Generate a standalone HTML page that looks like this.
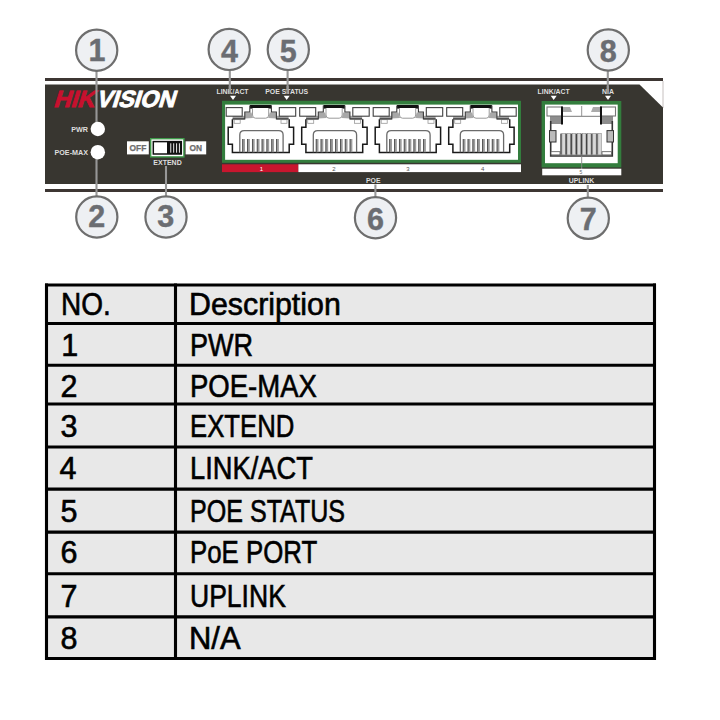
<!DOCTYPE html>
<html><head><meta charset="utf-8">
<style>
html,body{margin:0;padding:0;background:#fff;}
body{width:720px;height:720px;position:relative;overflow:hidden;font-family:"Liberation Sans",sans-serif;}
#panel{position:absolute;left:0;top:0;}
.hl{position:absolute;left:45px;width:611px;height:3px;background:#000;}
.vl{position:absolute;top:284px;width:3px;height:376px;background:#000;}
.t{position:absolute;font-size:30.5px;-webkit-text-stroke:0.6px #000;line-height:1;color:#000;white-space:nowrap;transform-origin:0 0;}
#h0{left:61.4px;top:289.1px;transform:scaleX(0.917);}
#d0{left:188.5px;top:288.9px;transform:scaleX(0.995);}
#n1{left:61.2px;top:329.5px;transform:scaleX(1.000);}
#s1{left:190.0px;top:329.5px;transform:scaleX(0.887);}
#n2{left:60.5px;top:371.2px;transform:scaleX(1.000);}
#s2{left:189.9px;top:371.2px;transform:scaleX(0.902);}
#n3{left:60.5px;top:411.2px;transform:scaleX(1.000);}
#s3{left:190.1px;top:411.2px;transform:scaleX(0.843);}
#n4{left:59.4px;top:453.4px;transform:scaleX(1.000);}
#s4{left:189.5px;top:453.4px;transform:scaleX(0.895);}
#n5{left:60.5px;top:496.2px;transform:scaleX(1.000);}
#s5{left:189.6px;top:496.2px;transform:scaleX(0.822);}
#n6{left:60.5px;top:537.2px;transform:scaleX(1.000);}
#s6{left:189.6px;top:537.2px;transform:scaleX(0.846);}
#n7{left:60.5px;top:581.0px;transform:scaleX(1.000);}
#s7{left:189.5px;top:581.0px;transform:scaleX(0.870);}
#n8{left:60.5px;top:622.9px;transform:scaleX(1.000);}
#s8{left:189.2px;top:622.9px;transform:scaleX(1.014);}
</style></head><body>
<svg id="panel" width="720" height="260" viewBox="0 0 720 260">
<rect x="45" y="78" width="618" height="3" fill="#3d3633"/>
<rect x="45" y="189" width="618" height="3" fill="#3d3633"/>
<line x1="663" y1="81" x2="663" y2="108" stroke="#b8b0ae" stroke-width="0.8"/>
<path d="M45 84.6 L639.5 84.6 L663 107.5 L663 184 L45 184 Z" fill="#383630"/>
<g transform="translate(0,106.9) skewX(-17) translate(0,-106.9)"><text x="53" y="106.9" font-family="Liberation Sans" font-weight="bold" font-size="23.5" textLength="41" lengthAdjust="spacingAndGlyphs" fill="#c8102e" stroke="#c8102e" stroke-width="0.9">HIK</text><text x="95.8" y="106.9" font-family="Liberation Sans" font-weight="bold" font-size="23.5" textLength="78.5" lengthAdjust="spacingAndGlyphs" fill="#ffffff" stroke="#fff" stroke-width="0.9">VISION</text></g>
<g stroke="#979797" stroke-width="2.1">
<line x1="96.5" y1="70" x2="96.5" y2="124"/>
<line x1="96.5" y1="156" x2="96.5" y2="198"/>
<line x1="166" y1="166" x2="166" y2="198"/>
<line x1="229.8" y1="69" x2="229.8" y2="94"/>
<line x1="287.6" y1="69" x2="287.6" y2="94"/>
<line x1="375.4" y1="184.5" x2="375.4" y2="198"/>
<line x1="587.8" y1="185" x2="587.8" y2="198"/>
<line x1="607.8" y1="70" x2="607.8" y2="94"/>
</g>
<circle cx="97.8" cy="129" r="7.2" fill="#fff"/>
<circle cx="97.8" cy="152.2" r="7.2" fill="#fff"/>
<text x="88" y="131.6" text-anchor="end" font-size="7.2" font-family="Liberation Sans" font-weight="bold" fill="#dedede">PWR</text>
<text x="88" y="154.8" text-anchor="end" font-size="7.2" font-family="Liberation Sans" font-weight="bold" fill="#dedede">POE-MAX</text>
<rect x="127" y="141.3" width="21.8" height="13.1" fill="#fff"/>
<rect x="185.6" y="141.3" width="20.6" height="13.1" fill="#fff"/>
<text x="137.9" y="151" text-anchor="middle" font-family="Liberation Sans" font-weight="bold" font-size="8.4" fill="#6e6e6e" stroke="#6e6e6e" stroke-width="0.25">OFF</text>
<text x="195.9" y="151" text-anchor="middle" font-family="Liberation Sans" font-weight="bold" font-size="8.4" fill="#6e6e6e" stroke="#6e6e6e" stroke-width="0.25">ON</text>
<rect x="150.7" y="138.7" width="33.2" height="18.2" fill="#fff" stroke="#3f9a4a" stroke-width="1.4"/>
<rect x="153.3" y="141.6" width="28" height="12.4" fill="#fff" stroke="#111" stroke-width="1.5"/>
<rect x="167" y="141.6" width="14.3" height="12.4" fill="#111"/>
<rect x="170.2" y="143.3" width="1.1" height="9.4" fill="#d8d8d8"/>
<rect x="173.1" y="143.3" width="1.1" height="9.4" fill="#d8d8d8"/>
<rect x="176.0" y="143.3" width="1.1" height="9.4" fill="#d8d8d8"/>
<rect x="178.9" y="143.3" width="1.1" height="9.4" fill="#d8d8d8"/>
<text x="167.5" y="164.6" text-anchor="middle" font-size="7" font-family="Liberation Sans" font-weight="bold" fill="#dedede">EXTEND</text>
<text x="232.5" y="94" text-anchor="middle" font-size="6.9" font-family="Liberation Sans" font-weight="bold" fill="#dedede">LINK/ACT</text>
<text x="286.7" y="94" text-anchor="middle" font-size="6.9" font-family="Liberation Sans" font-weight="bold" fill="#dedede">POE STATUS</text>
<text x="553.7" y="94" text-anchor="middle" font-size="6.9" font-family="Liberation Sans" font-weight="bold" fill="#dedede">LINK/ACT</text>
<text x="608" y="94" text-anchor="middle" font-size="6.9" font-family="Liberation Sans" font-weight="bold" fill="#dedede">N/A</text>
<path d="M230 95.8 L236 95.8 L233 100 Z" fill="#fff"/>
<path d="M283.7 95.8 L289.7 95.8 L286.7 100 Z" fill="#fff"/>
<path d="M550.7 95.8 L556.7 95.8 L553.7 100 Z" fill="#fff"/>
<path d="M605 95.8 L611 95.8 L608 100 Z" fill="#fff"/>
<g stroke="#979797" stroke-width="2.1"><line x1="229.8" y1="86" x2="229.8" y2="94"/><line x1="287.6" y1="86" x2="287.6" y2="94"/><line x1="607.8" y1="86" x2="607.8" y2="94"/></g>
<rect x="222" y="100.8" width="299" height="62" fill="#337d3d"/>
<rect x="225.1" y="104.6" width="292.9" height="55.2" fill="#fff"/>
<g transform="translate(222.00,100)"><path d="M22.8 12 L27.8 12 L27.8 5 L49.4 5 L49.4 12 L54.4 12 L54.4 18.9 L22.8 18.9 Z" fill="#fff"/><path d="M22.8 12.5 L29.5 12.5 L31 18 L22.8 18.5 Z" fill="#a8a8a8"/><path d="M54.4 12.5 L47.7 12.5 L46.2 18 L54.4 18.5 Z" fill="#a8a8a8"/><rect x="28" y="5" width="21.4" height="3.6" fill="#111"/><path d="M30.5 8 L30.5 15 Q30.5 18.2 33.5 18.2 L43.7 18.2 Q46.7 18.2 46.7 15 L46.7 8" fill="#fff" stroke="#9a9a9a" stroke-width="1"/><rect x="10.6" y="15.8" width="12.2" height="3.9" fill="#a0a0a0"/><rect x="54.4" y="15.8" width="12.2" height="3.9" fill="#a0a0a0"/><rect x="12.2" y="19.7" width="6" height="3.6" fill="#fff" stroke="#999" stroke-width="0.8"/><rect x="59" y="19.7" width="6" height="3.6" fill="#fff" stroke="#999" stroke-width="0.8"/><path d="M10.4 19.2 L10.4 27.2 L6.2 27.2 L6.2 44.2 L10.4 44.2 L10.4 52.4 L67.2 52.4 L67.2 44.2 L71.6 44.2 L71.6 27.2 L67.2 27.2 L67.2 19.2" fill="none" stroke="#1a1a1a" stroke-width="1.5" stroke-linejoin="miter"/><path d="M10.6 18.9 L22.8 18.9 L22.8 12 L27.8 12 L27.8 5.5 M49.4 5.5 L49.4 12 L54.4 12 L54.4 18.9 L66.6 18.9" fill="none" stroke="#3a3a3a" stroke-width="1.1"/><rect x="4.2" y="7.6" width="16" height="8.6" fill="#fff" stroke="#404040" stroke-width="1.1"/><rect x="57.3" y="7.6" width="16.4" height="8.6" fill="#fff" stroke="#404040" stroke-width="1.1"/><path d="M17.8 52.2 L17.8 35 Q17.8 30.6 22.2 30.6 L56.7 30.6 Q61.1 30.6 61.1 35 L61.1 52.2" fill="none" stroke="#6b6b6b" stroke-width="1.3"/><rect x="20.30" y="39" width="2.7" height="13.2" fill="#9c9c9c"/><rect x="20.30" y="39" width="0.8" height="13.2" fill="#444"/><rect x="25.14" y="39" width="2.7" height="13.2" fill="#9c9c9c"/><rect x="25.14" y="39" width="0.8" height="13.2" fill="#444"/><rect x="29.98" y="39" width="2.7" height="13.2" fill="#9c9c9c"/><rect x="29.98" y="39" width="0.8" height="13.2" fill="#444"/><rect x="34.82" y="39" width="2.7" height="13.2" fill="#9c9c9c"/><rect x="34.82" y="39" width="0.8" height="13.2" fill="#444"/><rect x="39.66" y="39" width="2.7" height="13.2" fill="#9c9c9c"/><rect x="39.66" y="39" width="0.8" height="13.2" fill="#444"/><rect x="44.50" y="39" width="2.7" height="13.2" fill="#9c9c9c"/><rect x="44.50" y="39" width="0.8" height="13.2" fill="#444"/><rect x="49.34" y="39" width="2.7" height="13.2" fill="#9c9c9c"/><rect x="49.34" y="39" width="0.8" height="13.2" fill="#444"/><rect x="54.18" y="39" width="2.7" height="13.2" fill="#9c9c9c"/><rect x="54.18" y="39" width="0.8" height="13.2" fill="#444"/></g>
<g transform="translate(295.50,100)"><path d="M22.8 12 L27.8 12 L27.8 5 L49.4 5 L49.4 12 L54.4 12 L54.4 18.9 L22.8 18.9 Z" fill="#fff"/><path d="M22.8 12.5 L29.5 12.5 L31 18 L22.8 18.5 Z" fill="#a8a8a8"/><path d="M54.4 12.5 L47.7 12.5 L46.2 18 L54.4 18.5 Z" fill="#a8a8a8"/><rect x="28" y="5" width="21.4" height="3.6" fill="#111"/><path d="M30.5 8 L30.5 15 Q30.5 18.2 33.5 18.2 L43.7 18.2 Q46.7 18.2 46.7 15 L46.7 8" fill="#fff" stroke="#9a9a9a" stroke-width="1"/><rect x="10.6" y="15.8" width="12.2" height="3.9" fill="#a0a0a0"/><rect x="54.4" y="15.8" width="12.2" height="3.9" fill="#a0a0a0"/><rect x="12.2" y="19.7" width="6" height="3.6" fill="#fff" stroke="#999" stroke-width="0.8"/><rect x="59" y="19.7" width="6" height="3.6" fill="#fff" stroke="#999" stroke-width="0.8"/><path d="M10.4 19.2 L10.4 27.2 L6.2 27.2 L6.2 44.2 L10.4 44.2 L10.4 52.4 L67.2 52.4 L67.2 44.2 L71.6 44.2 L71.6 27.2 L67.2 27.2 L67.2 19.2" fill="none" stroke="#1a1a1a" stroke-width="1.5" stroke-linejoin="miter"/><path d="M10.6 18.9 L22.8 18.9 L22.8 12 L27.8 12 L27.8 5.5 M49.4 5.5 L49.4 12 L54.4 12 L54.4 18.9 L66.6 18.9" fill="none" stroke="#3a3a3a" stroke-width="1.1"/><rect x="4.2" y="7.6" width="16" height="8.6" fill="#fff" stroke="#404040" stroke-width="1.1"/><rect x="57.3" y="7.6" width="16.4" height="8.6" fill="#fff" stroke="#404040" stroke-width="1.1"/><path d="M17.8 52.2 L17.8 35 Q17.8 30.6 22.2 30.6 L56.7 30.6 Q61.1 30.6 61.1 35 L61.1 52.2" fill="none" stroke="#6b6b6b" stroke-width="1.3"/><rect x="20.30" y="39" width="2.7" height="13.2" fill="#9c9c9c"/><rect x="20.30" y="39" width="0.8" height="13.2" fill="#444"/><rect x="25.14" y="39" width="2.7" height="13.2" fill="#9c9c9c"/><rect x="25.14" y="39" width="0.8" height="13.2" fill="#444"/><rect x="29.98" y="39" width="2.7" height="13.2" fill="#9c9c9c"/><rect x="29.98" y="39" width="0.8" height="13.2" fill="#444"/><rect x="34.82" y="39" width="2.7" height="13.2" fill="#9c9c9c"/><rect x="34.82" y="39" width="0.8" height="13.2" fill="#444"/><rect x="39.66" y="39" width="2.7" height="13.2" fill="#9c9c9c"/><rect x="39.66" y="39" width="0.8" height="13.2" fill="#444"/><rect x="44.50" y="39" width="2.7" height="13.2" fill="#9c9c9c"/><rect x="44.50" y="39" width="0.8" height="13.2" fill="#444"/><rect x="49.34" y="39" width="2.7" height="13.2" fill="#9c9c9c"/><rect x="49.34" y="39" width="0.8" height="13.2" fill="#444"/><rect x="54.18" y="39" width="2.7" height="13.2" fill="#9c9c9c"/><rect x="54.18" y="39" width="0.8" height="13.2" fill="#444"/></g>
<g transform="translate(369.00,100)"><path d="M22.8 12 L27.8 12 L27.8 5 L49.4 5 L49.4 12 L54.4 12 L54.4 18.9 L22.8 18.9 Z" fill="#fff"/><path d="M22.8 12.5 L29.5 12.5 L31 18 L22.8 18.5 Z" fill="#a8a8a8"/><path d="M54.4 12.5 L47.7 12.5 L46.2 18 L54.4 18.5 Z" fill="#a8a8a8"/><rect x="28" y="5" width="21.4" height="3.6" fill="#111"/><path d="M30.5 8 L30.5 15 Q30.5 18.2 33.5 18.2 L43.7 18.2 Q46.7 18.2 46.7 15 L46.7 8" fill="#fff" stroke="#9a9a9a" stroke-width="1"/><rect x="10.6" y="15.8" width="12.2" height="3.9" fill="#a0a0a0"/><rect x="54.4" y="15.8" width="12.2" height="3.9" fill="#a0a0a0"/><rect x="12.2" y="19.7" width="6" height="3.6" fill="#fff" stroke="#999" stroke-width="0.8"/><rect x="59" y="19.7" width="6" height="3.6" fill="#fff" stroke="#999" stroke-width="0.8"/><path d="M10.4 19.2 L10.4 27.2 L6.2 27.2 L6.2 44.2 L10.4 44.2 L10.4 52.4 L67.2 52.4 L67.2 44.2 L71.6 44.2 L71.6 27.2 L67.2 27.2 L67.2 19.2" fill="none" stroke="#1a1a1a" stroke-width="1.5" stroke-linejoin="miter"/><path d="M10.6 18.9 L22.8 18.9 L22.8 12 L27.8 12 L27.8 5.5 M49.4 5.5 L49.4 12 L54.4 12 L54.4 18.9 L66.6 18.9" fill="none" stroke="#3a3a3a" stroke-width="1.1"/><rect x="4.2" y="7.6" width="16" height="8.6" fill="#fff" stroke="#404040" stroke-width="1.1"/><rect x="57.3" y="7.6" width="16.4" height="8.6" fill="#fff" stroke="#404040" stroke-width="1.1"/><path d="M17.8 52.2 L17.8 35 Q17.8 30.6 22.2 30.6 L56.7 30.6 Q61.1 30.6 61.1 35 L61.1 52.2" fill="none" stroke="#6b6b6b" stroke-width="1.3"/><rect x="20.30" y="39" width="2.7" height="13.2" fill="#9c9c9c"/><rect x="20.30" y="39" width="0.8" height="13.2" fill="#444"/><rect x="25.14" y="39" width="2.7" height="13.2" fill="#9c9c9c"/><rect x="25.14" y="39" width="0.8" height="13.2" fill="#444"/><rect x="29.98" y="39" width="2.7" height="13.2" fill="#9c9c9c"/><rect x="29.98" y="39" width="0.8" height="13.2" fill="#444"/><rect x="34.82" y="39" width="2.7" height="13.2" fill="#9c9c9c"/><rect x="34.82" y="39" width="0.8" height="13.2" fill="#444"/><rect x="39.66" y="39" width="2.7" height="13.2" fill="#9c9c9c"/><rect x="39.66" y="39" width="0.8" height="13.2" fill="#444"/><rect x="44.50" y="39" width="2.7" height="13.2" fill="#9c9c9c"/><rect x="44.50" y="39" width="0.8" height="13.2" fill="#444"/><rect x="49.34" y="39" width="2.7" height="13.2" fill="#9c9c9c"/><rect x="49.34" y="39" width="0.8" height="13.2" fill="#444"/><rect x="54.18" y="39" width="2.7" height="13.2" fill="#9c9c9c"/><rect x="54.18" y="39" width="0.8" height="13.2" fill="#444"/></g>
<g transform="translate(442.50,100)"><path d="M22.8 12 L27.8 12 L27.8 5 L49.4 5 L49.4 12 L54.4 12 L54.4 18.9 L22.8 18.9 Z" fill="#fff"/><path d="M22.8 12.5 L29.5 12.5 L31 18 L22.8 18.5 Z" fill="#a8a8a8"/><path d="M54.4 12.5 L47.7 12.5 L46.2 18 L54.4 18.5 Z" fill="#a8a8a8"/><rect x="28" y="5" width="21.4" height="3.6" fill="#111"/><path d="M30.5 8 L30.5 15 Q30.5 18.2 33.5 18.2 L43.7 18.2 Q46.7 18.2 46.7 15 L46.7 8" fill="#fff" stroke="#9a9a9a" stroke-width="1"/><rect x="10.6" y="15.8" width="12.2" height="3.9" fill="#a0a0a0"/><rect x="54.4" y="15.8" width="12.2" height="3.9" fill="#a0a0a0"/><rect x="12.2" y="19.7" width="6" height="3.6" fill="#fff" stroke="#999" stroke-width="0.8"/><rect x="59" y="19.7" width="6" height="3.6" fill="#fff" stroke="#999" stroke-width="0.8"/><path d="M10.4 19.2 L10.4 27.2 L6.2 27.2 L6.2 44.2 L10.4 44.2 L10.4 52.4 L67.2 52.4 L67.2 44.2 L71.6 44.2 L71.6 27.2 L67.2 27.2 L67.2 19.2" fill="none" stroke="#1a1a1a" stroke-width="1.5" stroke-linejoin="miter"/><path d="M10.6 18.9 L22.8 18.9 L22.8 12 L27.8 12 L27.8 5.5 M49.4 5.5 L49.4 12 L54.4 12 L54.4 18.9 L66.6 18.9" fill="none" stroke="#3a3a3a" stroke-width="1.1"/><rect x="4.2" y="7.6" width="16" height="8.6" fill="#fff" stroke="#404040" stroke-width="1.1"/><rect x="57.3" y="7.6" width="16.4" height="8.6" fill="#fff" stroke="#404040" stroke-width="1.1"/><path d="M17.8 52.2 L17.8 35 Q17.8 30.6 22.2 30.6 L56.7 30.6 Q61.1 30.6 61.1 35 L61.1 52.2" fill="none" stroke="#6b6b6b" stroke-width="1.3"/><rect x="20.30" y="39" width="2.7" height="13.2" fill="#9c9c9c"/><rect x="20.30" y="39" width="0.8" height="13.2" fill="#444"/><rect x="25.14" y="39" width="2.7" height="13.2" fill="#9c9c9c"/><rect x="25.14" y="39" width="0.8" height="13.2" fill="#444"/><rect x="29.98" y="39" width="2.7" height="13.2" fill="#9c9c9c"/><rect x="29.98" y="39" width="0.8" height="13.2" fill="#444"/><rect x="34.82" y="39" width="2.7" height="13.2" fill="#9c9c9c"/><rect x="34.82" y="39" width="0.8" height="13.2" fill="#444"/><rect x="39.66" y="39" width="2.7" height="13.2" fill="#9c9c9c"/><rect x="39.66" y="39" width="0.8" height="13.2" fill="#444"/><rect x="44.50" y="39" width="2.7" height="13.2" fill="#9c9c9c"/><rect x="44.50" y="39" width="0.8" height="13.2" fill="#444"/><rect x="49.34" y="39" width="2.7" height="13.2" fill="#9c9c9c"/><rect x="49.34" y="39" width="0.8" height="13.2" fill="#444"/><rect x="54.18" y="39" width="2.7" height="13.2" fill="#9c9c9c"/><rect x="54.18" y="39" width="0.8" height="13.2" fill="#444"/></g>
<rect x="222" y="164.3" width="76.4" height="7.8" fill="#c8162e"/>
<rect x="298.4" y="164.3" width="222.6" height="7.8" fill="#fff"/>
<text x="261.5" y="170.6" font-family="Liberation Sans" font-size="6" text-anchor="middle" fill="#fff">1</text>
<text x="334" y="170.6" font-family="Liberation Sans" font-size="6" text-anchor="middle" fill="#555">2</text>
<text x="408" y="170.6" font-family="Liberation Sans" font-size="6" text-anchor="middle" fill="#555">3</text>
<text x="482.7" y="170.6" font-family="Liberation Sans" font-size="6" text-anchor="middle" fill="#555">4</text>
<text x="373.3" y="182.8" text-anchor="middle" font-size="6.9" font-family="Liberation Sans" font-weight="bold" fill="#dedede">POE</text>
<rect x="541.6" y="101" width="79.7" height="66.4" fill="#337d3d"/>
<rect x="545" y="104.6" width="72.7" height="58.6" fill="#fff"/>
<rect x="550" y="116" width="13" height="8" fill="#8d8d8d"/>
<rect x="600" y="116" width="13" height="8" fill="#8d8d8d"/>
<path d="M550.7 121 L550.7 156 L612.3 156 L612.3 121" fill="none" stroke="#333" stroke-width="1.6"/>
<line x1="562" y1="116.3" x2="601" y2="116.3" stroke="#777" stroke-width="1"/>
<path d="M563 107 L570 107 L572 112 L563 112 Z M600 107 L593 107 L591 112 L600 112 Z" fill="#aaa"/>
<line x1="581.7" y1="106" x2="581.7" y2="116" stroke="#888" stroke-width="0.9"/>
<line x1="581.7" y1="156" x2="581.7" y2="171" stroke="#888" stroke-width="0.9"/>
<rect x="547" y="107" width="15" height="9" fill="#fff" stroke="#777" stroke-width="1.1"/>
<rect x="600.5" y="107" width="15" height="9" fill="#fff" stroke="#777" stroke-width="1.1"/>
<rect x="561" y="106.5" width="2" height="18" fill="#111"/>
<rect x="600" y="106.5" width="2" height="18" fill="#111"/>
<rect x="549.5" y="130.6" width="6.5" height="11.4" fill="#bbb" stroke="#333" stroke-width="1"/>
<rect x="607" y="130.6" width="6.5" height="11.4" fill="#bbb" stroke="#333" stroke-width="1"/>
<rect x="560.30" y="133.6" width="1.6" height="21.2" fill="#444"/>
<rect x="561.90" y="133.6" width="3.4" height="21.2" fill="#d8d8d8" stroke="#888" stroke-width="0.6"/>
<rect x="565.44" y="133.6" width="1.6" height="21.2" fill="#444"/>
<rect x="567.04" y="133.6" width="3.4" height="21.2" fill="#d8d8d8" stroke="#888" stroke-width="0.6"/>
<rect x="570.58" y="133.6" width="1.6" height="21.2" fill="#444"/>
<rect x="572.18" y="133.6" width="3.4" height="21.2" fill="#d8d8d8" stroke="#888" stroke-width="0.6"/>
<rect x="575.72" y="133.6" width="1.6" height="21.2" fill="#444"/>
<rect x="577.32" y="133.6" width="3.4" height="21.2" fill="#d8d8d8" stroke="#888" stroke-width="0.6"/>
<rect x="580.86" y="133.6" width="1.6" height="21.2" fill="#444"/>
<rect x="582.46" y="133.6" width="3.4" height="21.2" fill="#d8d8d8" stroke="#888" stroke-width="0.6"/>
<rect x="586.00" y="133.6" width="1.6" height="21.2" fill="#444"/>
<rect x="587.60" y="133.6" width="3.4" height="21.2" fill="#d8d8d8" stroke="#888" stroke-width="0.6"/>
<rect x="591.14" y="133.6" width="1.6" height="21.2" fill="#444"/>
<rect x="592.74" y="133.6" width="3.4" height="21.2" fill="#d8d8d8" stroke="#888" stroke-width="0.6"/>
<rect x="596.28" y="133.6" width="1.6" height="21.2" fill="#444"/>
<rect x="597.88" y="133.6" width="3.4" height="21.2" fill="#d8d8d8" stroke="#888" stroke-width="0.6"/>
<rect x="551" y="151.7" width="9" height="3.2" fill="#fff" stroke="#555" stroke-width="0.8"/>
<rect x="602" y="151.7" width="9.5" height="3.2" fill="#fff" stroke="#555" stroke-width="0.8"/>
<rect x="542.2" y="168.7" width="79.1" height="6.6" fill="#fff"/>
<text x="581" y="174" font-family="Liberation Sans" font-size="5" text-anchor="middle" fill="#666">5</text>
<text x="581.5" y="183" text-anchor="middle" font-size="6.9" font-family="Liberation Sans" font-weight="bold" fill="#dedede">UPLINK</text>
<circle cx="96.7" cy="50.2" r="20.6" fill="#eef0f3" stroke="#6e6e6e" stroke-width="2.2"/><text x="96.9" y="61.3" text-anchor="middle" font-family="Liberation Sans" font-weight="bold" font-size="30.5" fill="#6b6d72" stroke="#6b6d72" stroke-width="0.4">1</text>
<circle cx="229.2" cy="49.4" r="20.6" fill="#eef0f3" stroke="#6e6e6e" stroke-width="2.2"/><text x="229.6" y="61.7" text-anchor="middle" font-family="Liberation Sans" font-weight="bold" font-size="30.5" fill="#6b6d72" stroke="#6b6d72" stroke-width="0.4">4</text>
<circle cx="288.3" cy="49.4" r="20.6" fill="#eef0f3" stroke="#6e6e6e" stroke-width="2.2"/><text x="288.2" y="61.7" text-anchor="middle" font-family="Liberation Sans" font-weight="bold" font-size="30.5" fill="#6b6d72" stroke="#6b6d72" stroke-width="0.4">5</text>
<circle cx="608.3" cy="50" r="20.6" fill="#eef0f3" stroke="#6e6e6e" stroke-width="2.2"/><text x="608.3" y="61.7" text-anchor="middle" font-family="Liberation Sans" font-weight="bold" font-size="30.5" fill="#6b6d72" stroke="#6b6d72" stroke-width="0.4">8</text>
<circle cx="96.8" cy="217.0" r="20.6" fill="#eef0f3" stroke="#6e6e6e" stroke-width="2.2"/><text x="96.85" y="227.3" text-anchor="middle" font-family="Liberation Sans" font-weight="bold" font-size="30.5" fill="#6b6d72" stroke="#6b6d72" stroke-width="0.4">2</text>
<circle cx="166" cy="217.0" r="20.6" fill="#eef0f3" stroke="#6e6e6e" stroke-width="2.2"/><text x="165.75" y="227.3" text-anchor="middle" font-family="Liberation Sans" font-weight="bold" font-size="30.5" fill="#6b6d72" stroke="#6b6d72" stroke-width="0.4">3</text>
<circle cx="375.5" cy="217.7" r="20.6" fill="#eef0f3" stroke="#6e6e6e" stroke-width="2.2"/><text x="375.5" y="229.8" text-anchor="middle" font-family="Liberation Sans" font-weight="bold" font-size="30.5" fill="#6b6d72" stroke="#6b6d72" stroke-width="0.4">6</text>
<circle cx="588.3" cy="218.3" r="20.6" fill="#eef0f3" stroke="#6e6e6e" stroke-width="2.2"/><text x="588.25" y="230" text-anchor="middle" font-family="Liberation Sans" font-weight="bold" font-size="30.5" fill="#6b6d72" stroke="#6b6d72" stroke-width="0.4">7</text>
</svg>
<svg id="tbl" width="720" height="720" style="position:absolute;left:0;top:0"><rect x="46.5" y="285" width="608" height="373.5" fill="#e8e8e8"/><g stroke="#000" stroke-width="3.1"><line x1="45" y1="285" x2="656" y2="285"/><line x1="45" y1="323.5" x2="656" y2="323.5"/><line x1="45" y1="365.3" x2="656" y2="365.3"/><line x1="45" y1="404" x2="656" y2="404"/><line x1="45" y1="447" x2="656" y2="447"/><line x1="45" y1="489.1" x2="656" y2="489.1"/><line x1="45" y1="532.1" x2="656" y2="532.1"/><line x1="45" y1="573.75" x2="656" y2="573.75"/><line x1="45" y1="616.9" x2="656" y2="616.9"/><line x1="45" y1="658.5" x2="656" y2="658.5"/><line x1="46.5" y1="283.5" x2="46.5" y2="660"/><line x1="175.5" y1="283.5" x2="175.5" y2="660"/><line x1="654.5" y1="283.5" x2="654.5" y2="660"/></g></svg>
<div id="tx">
<div class="t" id="h0">NO.</div>
<div class="t" id="d0">Description</div>
<div class="t" id="n1">1</div><div class="t" id="s1">PWR</div>
<div class="t" id="n2">2</div><div class="t" id="s2">POE-MAX</div>
<div class="t" id="n3">3</div><div class="t" id="s3">EXTEND</div>
<div class="t" id="n4">4</div><div class="t" id="s4">LINK/ACT</div>
<div class="t" id="n5">5</div><div class="t" id="s5">POE STATUS</div>
<div class="t" id="n6">6</div><div class="t" id="s6">PoE PORT</div>
<div class="t" id="n7">7</div><div class="t" id="s7">UPLINK</div>
<div class="t" id="n8">8</div><div class="t" id="s8">N/A</div>
</div>
</body></html>
